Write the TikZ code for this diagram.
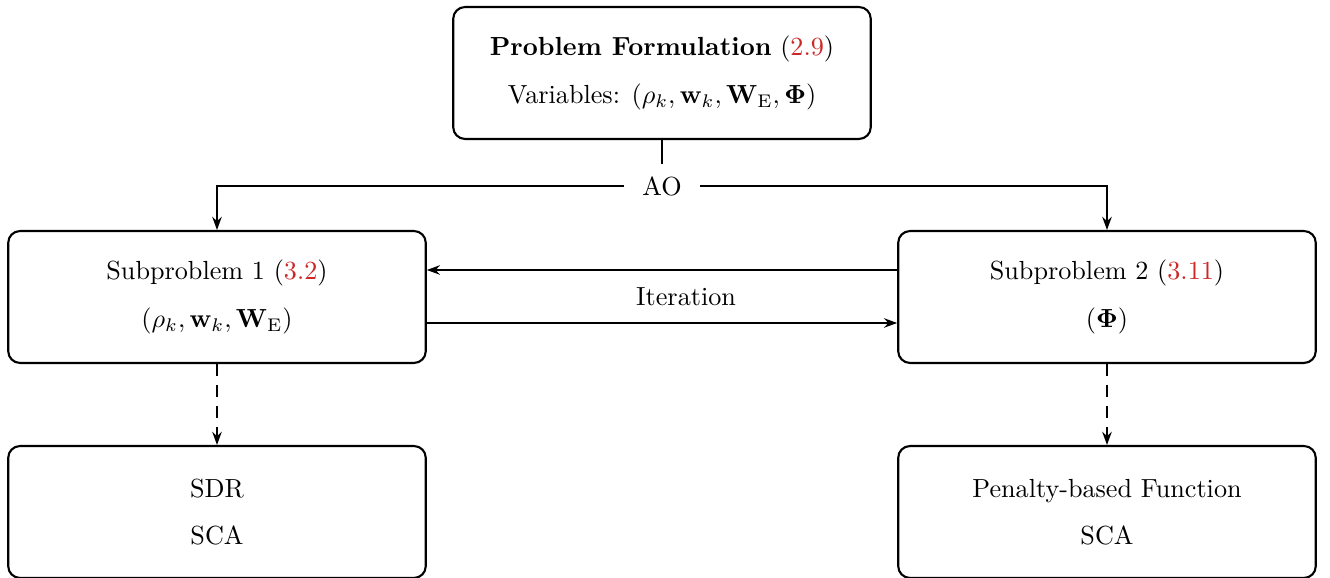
\documentclass[tikz,border=0pt]{standalone}
\usepackage{amsmath,bm}
\usetikzlibrary{arrows.meta}
\definecolor{refred}{RGB}{204,40,40}
\begin{document}
\begin{tikzpicture}[x=0.382pt,y=-0.382pt,
  box/.style={draw,thick,rounded corners=4.5pt,minimum width=159.5pt,minimum height=50.4pt,align=center,inner sep=0pt},
  conn/.style={thick,-{Stealth[length=5pt,width=3.6pt]}},
  dconn/.style={thick,dashed,dash pattern=on 4.5pt off 3.5pt,-{Stealth[length=5pt,width=3.6pt]}}]
\useasboundingbox (0,0) rectangle (1330,578);
\node[box] (top) at (662,73) {\textbf{Problem Formulation} (\textcolor{refred}{2.9})\\[6pt] Variables: $(\rho_k,\mathbf{w}_k,\mathbf{W}_{\mathrm{E}},\bm{\Phi})$};
\node[inner xsep=6.7pt,inner ysep=4.6pt] (ao) at (662,186) {AO};
\node[box] (s1) at (217,297) {Subproblem 1 (\textcolor{refred}{3.2})\\[6pt] $(\rho_k,\mathbf{w}_k,\mathbf{W}_{\mathrm{E}})$};
\node[box] (s2) at (1107,297) {Subproblem 2 (\textcolor{refred}{3.11})\\[6pt] $(\bm{\Phi})$};
\node[box] (b1) at (217,512) {SDR\\[6pt] SCA};
\node[box] (b2) at (1107,512) {Penalty-based Function\\[6pt] SCA};
\draw[thick] (top.south) -- (ao.north);
\draw[conn] (ao.west) -| (s1.north);
\draw[conn] (ao.east) -| (s2.north);
\draw[conn] ([yshift=27*0.382pt]s2.west) -- ([yshift=27*0.382pt]s1.east);
\draw[conn] ([yshift=-26*0.382pt]s1.east) -- node[above=3pt,xshift=9.2pt] (it) {Iteration} ([yshift=-26*0.382pt]s2.west);
\draw[dconn] (s1.south) -- (b1.north);
\draw[dconn] (s2.south) -- (b2.north);
\end{tikzpicture}
\end{document}
